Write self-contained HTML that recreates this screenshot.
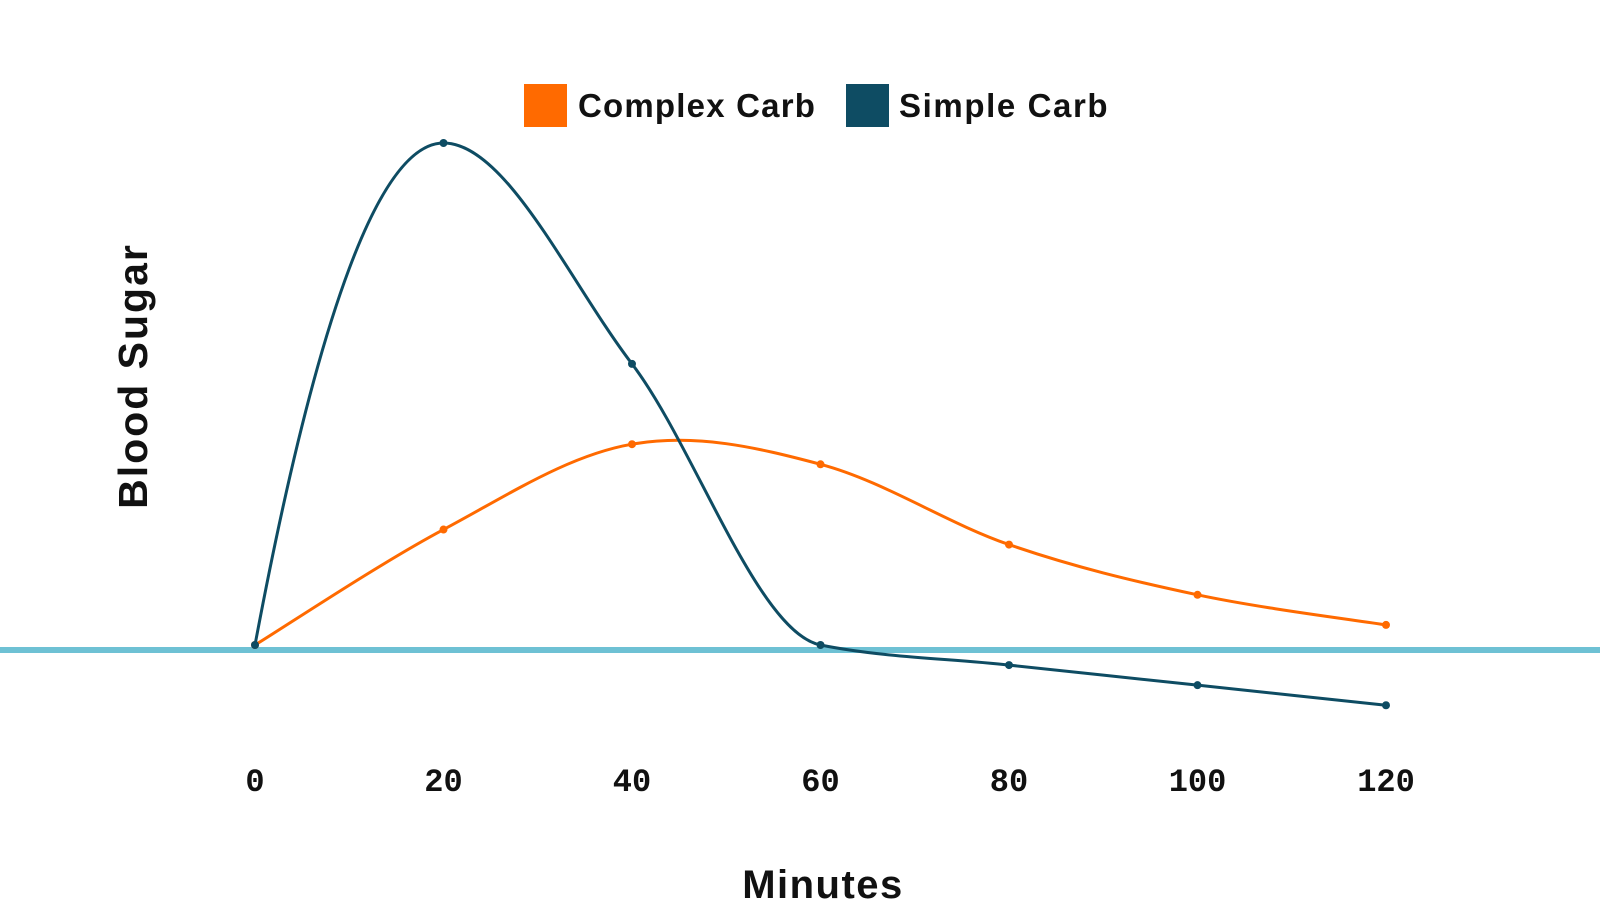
<!DOCTYPE html>
<html><head><meta charset="utf-8"><style>
body{margin:0;background:#fff;}
svg{display:block;}
</style></head><body>
<svg id="chart" width="1600" height="900" viewBox="0 0 1600 900" xmlns="http://www.w3.org/2000/svg">
<g>
<rect x="524" y="84" width="43" height="43" fill="#FF6A00"/>
<text x="578" y="117" font-family="Liberation Sans, sans-serif" font-weight="bold" font-size="33" letter-spacing="1.2" fill="#111">Complex Carb</text>
<rect x="846" y="84" width="43" height="43" fill="#0E4C63"/>
<text x="899" y="117" font-family="Liberation Sans, sans-serif" font-weight="bold" font-size="33" letter-spacing="1.6" fill="#111">Simple Carb</text>
</g>
<text transform="translate(147,376) rotate(-90)" text-anchor="middle" font-family="Liberation Sans, sans-serif" font-weight="bold" font-size="41" letter-spacing="2" fill="#111">Blood Sugar</text>
<text x="823" y="898" text-anchor="middle" font-family="Liberation Sans, sans-serif" font-weight="bold" font-size="40" letter-spacing="1.5" fill="#111">Minutes</text>
<rect x="0" y="647" width="1600" height="6" fill="#6EC1D4"/>
<g id="ticks"></g>
<g id="series"></g>
</svg>
<script>
const minutes=[0,20,40,60,80,100,120];
const tickLabels=["0","20","40","60","80","100","120"];
const complexCarb=[0,23,40,36,20,10,4];
const simpleCarb=[0,100,56,0,-4,-8,-12];
const NS="http://www.w3.org/2000/svg";
function xs(m){return 255+(m/120)*(1386-255);}
function ys(v){return 645-v*5.02;}
const ticks=document.getElementById('ticks');
minutes.forEach((m,i)=>{
 const t=document.createElementNS(NS,'text');
 
 
 t.setAttribute('x',xs(m));t.setAttribute('y',791);
 t.setAttribute('text-anchor','middle');
 t.setAttribute('font-family','Liberation Mono, monospace');
 t.setAttribute('font-weight','bold');t.setAttribute('font-size','32');t.setAttribute('fill','#111');
 t.textContent=tickLabels[i];ticks.appendChild(t);
});
function cardinal(pts){
 let d=`M${pts[0][0]},${pts[0][1]}`;
 for(let i=0;i<pts.length-1;i++){
  const p0=pts[Math.max(i-1,0)],p1=pts[i],p2=pts[i+1],p3=pts[Math.min(i+2,pts.length-1)];
  const k=0.17;
  d+=` C${p1[0]+(p2[0]-p0[0])*k},${p1[1]+(p2[1]-p0[1])*k} ${p2[0]-(p3[0]-p1[0])*k},${p2[1]-(p3[1]-p1[1])*k} ${p2[0]},${p2[1]}`;
 }
 return d;
}
function monotone(pts){
 const n=pts.length,dx=[],s=[],m=[];
 for(let i=0;i<n-1;i++){dx[i]=pts[i+1][0]-pts[i][0];s[i]=(pts[i+1][1]-pts[i][1])/dx[i];}
 m[0]=s[0];m[n-1]=s[n-2];
 for(let i=1;i<n-1;i++){m[i]=(s[i-1]*s[i]<=0)?0:(2/(1/s[i-1]+1/s[i]));}
 m[0]=2*s[0]-m[1];
 if(s[0]*m[0]<0)m[0]=0;
 let d=`M${pts[0][0]},${pts[0][1]}`;
 for(let i=0;i<n-1;i++){
  const h=dx[i]/3;
  d+=` C${pts[i][0]+h},${pts[i][1]+m[i]*h} ${pts[i+1][0]-h},${pts[i+1][1]-m[i+1]*h} ${pts[i+1][0]},${pts[i+1][1]}`;
 }
 return d;
}
const series=document.getElementById('series');
[[complexCarb,'#FF6A00','complex-carb',cardinal],[simpleCarb,'#0E4C63','simple-carb',monotone]].forEach(([vals,col,name,fn])=>{
 const pts=vals.map((v,i)=>[xs(minutes[i]),ys(v)]);
 const p=document.createElementNS(NS,'path');
 
 
 p.setAttribute('d',fn(pts));p.setAttribute('fill','none');p.setAttribute('stroke',col);p.setAttribute('stroke-width','3');
 series.appendChild(p);
 pts.forEach(pt=>{
  const c=document.createElementNS(NS,'circle');
  
  
  c.setAttribute('cx',pt[0]);c.setAttribute('cy',pt[1]);c.setAttribute('r','4');c.setAttribute('fill',col);
  series.appendChild(c);
 });
});
</script>
</body></html>
